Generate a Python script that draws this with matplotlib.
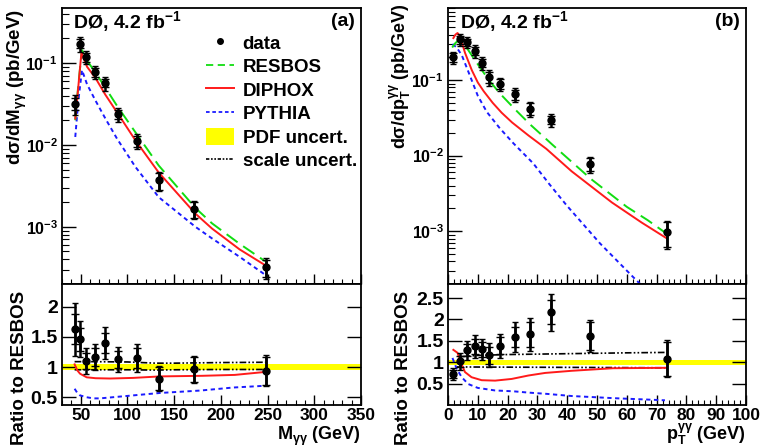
import matplotlib
matplotlib.use("Agg")
import matplotlib.pyplot as plt
from matplotlib.lines import Line2D
from matplotlib.patches import Patch
from matplotlib.ticker import MultipleLocator, LogLocator, NullFormatter

plt.rcParams['font.family'] = ['Liberation Sans', 'DejaVu Sans']
plt.rcParams['font.weight'] = 'bold'
plt.rcParams['mathtext.fontset'] = 'custom'
plt.rcParams['mathtext.rm'] = 'Liberation Sans:bold'
plt.rcParams['mathtext.bf'] = 'Liberation Sans:bold'
plt.rcParams['mathtext.it'] = 'Liberation Sans:bold'
plt.rcParams['mathtext.default'] = 'bf'

# ---------------- data: invariant mass ----------------
m_data = [44.2, 48.9, 55.7, 65.7, 75.7, 89.6, 110.3, 133.5, 171.0, 248.0]
xs_m = [0.032, 0.173, 0.119, 0.078, 0.057, 0.0238, 0.0111, 0.0037, 0.00164, 0.00032]
err_tot_m = [0.0088, 0.036, 0.023, 0.015, 0.011, 0.0045, 0.0023, 0.00096, 0.0004, 0.00009]
err_in_m = [0.0051, 0.022, 0.015, 0.0101, 0.0066, 0.003, 0.0016, 0.00085, 0.00035, 0.000078]
ratio_m = [1.63, 1.46, 1.10, 1.17, 1.40, 1.13, 1.15, 0.81, 0.96, 0.94]
rerr_tot_m = [0.44, 0.30, 0.21, 0.22, 0.26, 0.21, 0.24, 0.21, 0.23, 0.26]
rerr_in_m = [0.25, 0.19, 0.14, 0.15, 0.16, 0.14, 0.16, 0.19, 0.20, 0.23]

m_curve = [44.2, 47.5, 51.4, 56.8, 65.7, 76.4, 88.9, 108.5, 133.5, 172.7, 190.6, 220.0, 247.3]
resbos_m = [0.020, 0.055, 0.144, 0.107, 0.077, 0.050, 0.030, 0.0143, 0.0056, 0.0017, 0.0011, 0.00062, 0.00038]
m_dip = [44.2, 47.5, 50.8, 56.8, 65.7, 76.4, 88.9, 108.5, 133.5, 172.7, 190.6, 220.0, 247.3]
diphox_m = [0.021, 0.052, 0.134, 0.090, 0.066, 0.041, 0.025, 0.0114, 0.0046, 0.00145, 0.00095, 0.00053, 0.00034]
pythia_m = [0.0125, 0.035, 0.082, 0.055, 0.035, 0.021, 0.0119, 0.0054, 0.0023, 0.0010, 0.00072, 0.00043, 0.00026]

m_rdip = [43.5, 46.4, 49.3, 56.4, 66.0, 81.4, 106.0, 135.0, 180.0, 215.0, 248.0]
rdiphox_m = [1.045, 0.945, 0.89, 0.83, 0.815, 0.81, 0.82, 0.845, 0.855, 0.87, 0.92]
m_rpyt = [43.5, 46.0, 49.3, 56.0, 63.5, 70.7, 99.3, 135.0, 178.0, 213.0, 248.0]
rpythia_m = [0.64, 0.58, 0.53, 0.50, 0.48, 0.48, 0.52, 0.57, 0.61, 0.66, 0.69]
m_scale = [43.5, 60.0, 100.0, 130.0, 150.0, 200.0, 248.0]
scale_hi_m = [1.09, 1.09, 1.085, 1.065, 1.065, 1.075, 1.08]
scale_lo_m = [0.955, 0.955, 0.955, 0.95, 0.955, 0.96, 0.96]
pdf_lo, pdf_hi = 0.945, 1.058

# ---------------- data: pT ----------------
pt_data = [1.8, 3.9, 6.4, 8.9, 11.4, 13.9, 17.4, 22.4, 27.5, 34.5, 47.7, 73.4]
xs_pt = [0.20, 0.345, 0.32, 0.245, 0.17, 0.11, 0.090, 0.065, 0.042, 0.030, 0.0077, 0.00098]
err_tot_pt = [0.038, 0.066, 0.054, 0.047, 0.032, 0.026, 0.018, 0.0137, 0.010, 0.006, 0.0018, 0.00039]
err_in_pt = [0.027, 0.041, 0.035, 0.030, 0.022, 0.019, 0.013, 0.0098, 0.0076, 0.0039, 0.0015, 0.00036]
ratio_pt = [0.73, 1.02, 1.28, 1.37, 1.30, 1.16, 1.39, 1.59, 1.65, 2.17, 1.61, 1.08]
rerr_tot_pt = [0.14, 0.19, 0.22, 0.26, 0.25, 0.28, 0.28, 0.34, 0.39, 0.43, 0.37, 0.43]
rerr_in_pt = [0.10, 0.12, 0.14, 0.17, 0.17, 0.20, 0.20, 0.24, 0.30, 0.28, 0.32, 0.40]

pt_res = [1.4, 2.5, 3.5, 4.5, 5.5, 6.5, 9.0, 11.5, 14.0, 17.5, 22.5, 27.5, 35.0, 48.0, 60.0, 67.0, 73.5]
resbos_pt = [0.27, 0.31, 0.335, 0.34, 0.30, 0.26, 0.185, 0.133, 0.097, 0.066, 0.041, 0.026, 0.014, 0.0049, 0.0021, 0.0014, 0.00092]
pt_dip = [1.8, 2.5, 3.2, 4.0, 4.6, 5.7, 7.0, 8.0, 10.0, 12.0, 15.0, 18.0, 21.5, 27.0, 33.0, 41.5, 55.0, 65.0, 73.5]
diphox_pt = [0.36, 0.40, 0.42, 0.38, 0.32, 0.23, 0.17, 0.135, 0.093, 0.071, 0.050, 0.037, 0.0275, 0.0185, 0.0123, 0.0062, 0.0024, 0.0013, 0.00080]
pt_pyt = [1.5, 2.9, 4.6, 6.8, 10.0, 13.0, 17.4, 22.0, 28.6, 34.0, 39.8, 51.0, 62.0, 74.0]
pythia_pt = [0.30, 0.27, 0.215, 0.13, 0.062, 0.038, 0.023, 0.0145, 0.0079, 0.0042, 0.0022, 0.00069, 0.00025, 0.000085]

pt_rdip = [1.8, 3.2, 4.4, 5.7, 7.9, 11.3, 15.8, 21.4, 27.0, 32.6, 41.5, 55.4, 73.4]
rdiphox_pt = [1.29, 1.22, 0.98, 0.77, 0.65, 0.58, 0.57, 0.61, 0.69, 0.75, 0.80, 0.86, 0.87]
pt_rpyt = [1.5, 2.9, 4.6, 6.8, 10.0, 15.8, 22.0, 27.0, 33.2, 41.5, 55.5, 72.8]
rpythia_pt = [1.10, 0.85, 0.65, 0.49, 0.40, 0.34, 0.32, 0.29, 0.26, 0.21, 0.16, 0.11]
pt_scale_hi = [4.0, 10.0, 20.0, 40.0, 60.0, 73.4]
scale_hi_pt = [1.13, 1.16, 1.18, 1.20, 1.22, 1.23]
pt_scale_lo = [3.0, 20.0, 40.0, 73.4]
scale_lo_pt = [0.89, 0.885, 0.88, 0.87]

# ---------------- styles ----------------
C_RES = '#11dd11'
C_DIP = '#ff1a1a'
C_PYT = '#1a1aff'
LS_RES = (0, (7, 3.5))
LS_PYT = (0, (2.2, 1.8))
LS_SCALE = (0, (4, 1.3, 1, 1.3, 1, 1.3))
TICKFS = 12.5

W, H = 761, 447
fig = plt.figure(figsize=(W / 100, H / 100), dpi=100)

def fx(px):
    return px / W

def fy(py):
    return 1 - py / H

ax_ul = fig.add_axes([fx(62), fy(284), fx(361) - fx(62), fy(8) - fy(284)])
ax_ll = fig.add_axes([fx(62), fy(405), fx(361) - fx(62), fy(284) - fy(405)])
ax_ur = fig.add_axes([fx(448), fy(284), fx(746) - fx(448), fy(8) - fy(284)])
ax_lr = fig.add_axes([fx(448), fy(405), fx(746) - fx(448), fy(284) - fy(405)])

for ax in (ax_ul, ax_ll, ax_ur, ax_lr):
    for s in ax.spines.values():
        s.set_linewidth(1.3)


def draw_data(ax, x, y, etot, ein):
    ax.errorbar(x, y, yerr=etot, fmt='none', ecolor='k', elinewidth=1.8,
                capsize=2.2, capthick=1.0, zorder=6)
    ax.errorbar(x, y, yerr=ein, fmt='none', ecolor='k', elinewidth=1.8,
                capsize=2.8, capthick=1.0, zorder=6)
    ax.plot(x, y, 'o', color='k', ms=5, zorder=7)


# ----- upper left -----
ax = ax_ul
ax.plot(m_curve, resbos_m, color=C_RES, ls=LS_RES, lw=1.4, zorder=3)
ax.plot(m_dip, diphox_m, color=C_DIP, ls='-', lw=1.4, zorder=4)
ax.plot(m_curve, pythia_m, color=C_PYT, ls=LS_PYT, lw=1.4, zorder=2)
draw_data(ax, m_data, xs_m, err_tot_m, err_in_m)
ax.set_yscale('log')
ax.set_xlim(30, 350)
ax.set_ylim(2.0e-4, 0.47)

# ----- upper right -----
ax = ax_ur
ax.plot(pt_res, resbos_pt, color=C_RES, ls=LS_RES, lw=1.4, zorder=3)
ax.plot(pt_dip, diphox_pt, color=C_DIP, ls='-', lw=1.4, zorder=4)
ax.plot(pt_pyt, pythia_pt, color=C_PYT, ls=LS_PYT, lw=1.4, zorder=2)
draw_data(ax, pt_data, xs_pt, err_tot_pt, err_in_pt)
ax.set_yscale('log')
ax.set_xlim(0, 100)
ax.set_ylim(2.0e-4, 0.9)

# ----- lower left -----
ax = ax_ll
ax.fill_between([30, 350], [pdf_lo, pdf_lo], [pdf_hi, pdf_hi], color='#ffff00', lw=0, zorder=1)
ax.plot(m_scale, scale_hi_m, color='k', ls=LS_SCALE, lw=1.2, zorder=3)
ax.plot(m_scale, scale_lo_m, color='k', ls=LS_SCALE, lw=1.2, zorder=3)
ax.plot(m_rdip, rdiphox_m, color=C_DIP, ls='-', lw=1.4, zorder=4)
ax.plot(m_rpyt, rpythia_m, color=C_PYT, ls=LS_PYT, lw=1.4, zorder=4)
draw_data(ax, m_data, ratio_m, rerr_tot_m, rerr_in_m)
ax.set_xlim(30, 350)
ax.set_ylim(0.37, 2.38)

# ----- lower right -----
ax = ax_lr
ax.fill_between([0, 100], [pdf_lo, pdf_lo], [pdf_hi, pdf_hi], color='#ffff00', lw=0, zorder=1)
ax.plot(pt_scale_hi, scale_hi_pt, color='k', ls=LS_SCALE, lw=1.2, zorder=3)
ax.plot(pt_scale_lo, scale_lo_pt, color='k', ls=LS_SCALE, lw=1.2, zorder=3)
ax.plot(pt_rdip, rdiphox_pt, color=C_DIP, ls='-', lw=1.4, zorder=4)
ax.plot(pt_rpyt, rpythia_pt, color=C_PYT, ls=LS_PYT, lw=1.4, zorder=4)
draw_data(ax, pt_data, ratio_pt, rerr_tot_pt, rerr_in_pt)
ax.set_xlim(0, 100)
ax.set_ylim(0.0, 2.83)

# ----- ticks -----
for ax, major, minor in ((ax_ul, 50, 10), (ax_ll, 50, 10), (ax_ur, 10, 2), (ax_lr, 10, 2)):
    ax.xaxis.set_major_locator(MultipleLocator(major))
    ax.xaxis.set_minor_locator(MultipleLocator(minor))
    ax.tick_params(axis='x', which='major', direction='in', length=7, width=1.0,
                   top=False, bottom=True, labelsize=TICKFS, pad=2)
    ax.tick_params(axis='x', which='minor', direction='in', length=3.5, width=0.8,
                   top=False, bottom=True)

for ax in (ax_ul, ax_ur):
    ax.tick_params(axis='x', labelbottom=False)
    ax.yaxis.set_major_locator(LogLocator(base=10, numticks=10))
    ax.yaxis.set_minor_locator(LogLocator(base=10, subs=range(2, 10), numticks=20))
    ax.yaxis.set_minor_formatter(NullFormatter())
    ax.tick_params(axis='y', which='major', direction='in', length=10, width=1.0,
                   left=True, right=False, labelsize=11.5, pad=3)
    ax.tick_params(axis='y', which='minor', direction='in', length=5, width=0.8,
                   left=True, right=False)

for ax in (ax_ll, ax_lr):
    ax.yaxis.set_major_locator(MultipleLocator(0.5))
    ax.yaxis.set_minor_locator(MultipleLocator(0.1))
    ax.tick_params(axis='y', which='major', direction='in', length=10, width=1.0,
                   left=True, right=True, labelsize=TICKFS + 1.5, pad=3)
    ax.tick_params(axis='y', which='minor', length=0)
ax_ll.set_yticks([0.5, 1, 1.5, 2])
ax_ll.set_yticklabels(['0.5', '1', '1.5', '2'])
ax_lr.set_yticks([0.5, 1, 1.5, 2, 2.5])
ax_lr.set_yticklabels(['0.5', '1', '1.5', '2', '2.5'])
for ax in (ax_ll, ax_lr):
    for lbl in ax.get_xticklabels() + ax.get_yticklabels():
        lbl.set_fontweight('bold')

# ----- texts -----
ax_ul.text(0.037, 0.95, 'DØ, 4.2 fb$^{-1}$', transform=ax_ul.transAxes,
           fontsize=14, fontweight='bold', va='center', ha='left')
ax_ul.text(0.98, 0.95, '(a)', transform=ax_ul.transAxes,
           fontsize=14, fontweight='bold', va='center', ha='right')
ax_ur.text(0.04, 0.95, 'DØ, 4.2 fb$^{-1}$', transform=ax_ur.transAxes,
           fontsize=14, fontweight='bold', va='center', ha='left')
ax_ur.text(0.98, 0.95, '(b)', transform=ax_ur.transAxes,
           fontsize=14, fontweight='bold', va='center', ha='right')

fig.text(fx(17), fy(9), 'dσ/dM$_{γγ}$ (pb/GeV)', rotation=90, ha='center', va='top',
         fontsize=13.5, fontweight='bold')
fig.text(fx(400), fy(3), 'dσ/dp$_{T}^{γγ}$ (pb/GeV)', rotation=90, ha='center', va='top',
         fontsize=13, fontweight='bold')
fig.text(fx(20), fy(291), 'Ratio to RESBOS', rotation=90, ha='center', va='top',
         fontsize=13.5, fontweight='bold')
fig.text(fx(403), fy(291), 'Ratio to RESBOS', rotation=90, ha='center', va='top',
         fontsize=13.5, fontweight='bold')
fig.text(fx(361), fy(440), 'M$_{γγ}$ (GeV)', ha='right', va='baseline',
         fontsize=13, fontweight='bold')
fig.text(fx(746), fy(440), 'p$_{T}^{γγ}$ (GeV)', ha='right', va='baseline',
         fontsize=13, fontweight='bold')

# ----- legend -----
handles = [
    Line2D([], [], marker='o', color='k', ls='none', ms=4),
    Line2D([], [], color=C_RES, ls=(0, (4, 2.5)), lw=1.3),
    Line2D([], [], color=C_DIP, ls='-', lw=1.4),
    Line2D([], [], color=C_PYT, ls=(0, (2, 1.5)), lw=1.3),
    Patch(facecolor='#ffff00', edgecolor='none'),
    Line2D([], [], color='k', ls=(0, (2, 1, 1, 1, 1, 1)), lw=1.2),
]
labels = ['data', 'RESBOS', 'DIPHOX', 'PYTHIA', 'PDF uncert.', 'scale uncert.']
leg = ax_ul.legend(handles, labels, loc='upper left',
                   bbox_to_anchor=((206 - 62) / 299, 1 - (34 - 8) / 276),
                   frameon=False, fontsize=13.5, handlelength=1.5, handleheight=1.0,
                   handletextpad=0.45, labelspacing=0.25, borderpad=0, borderaxespad=0)
for t in leg.get_texts():
    t.set_fontweight('bold')

fig.savefig('out.png', dpi=100)
